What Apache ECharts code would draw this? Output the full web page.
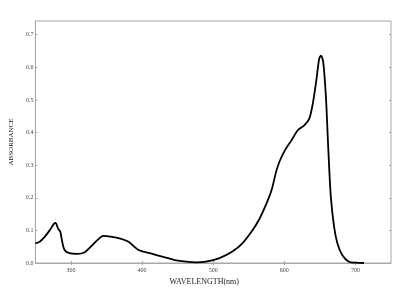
<!DOCTYPE html>
<html><head><meta charset="utf-8">
<script src="https://cdn.jsdelivr.net/npm/echarts@6/dist/echarts.min.js"></script>
<style>html,body{margin:0;padding:0;background:#fff}#c{width:400px;height:300px}</style>
</head><body><div id="c"></div>
<script>
const wavelength = [250,256,263,270,276,278.5,281.7,285,287.7,291,298,309,318.7,328,337,345.5,355.7,369.6,381,395,411,429.6,446,462,476,490,508,527,541,554.5,564,575,582,589,594,601,610,619,628,635,640,645,649,651.5,654.7,658.5,661.7,665.4,670,674.7,681.6,690.8,700,712];
const absorbance = [0.06,0.065,0.08,0.10,0.12,0.123,0.106,0.096,0.065,0.04,0.03,0.028,0.032,0.05,0.07,0.083,0.081,0.075,0.065,0.04,0.03,0.019,0.009,0.004,0.002,0.004,0.014,0.035,0.06,0.098,0.131,0.183,0.223,0.284,0.315,0.346,0.376,0.407,0.422,0.442,0.488,0.56,0.626,0.636,0.616,0.509,0.356,0.203,0.111,0.06,0.024,0.004,0.001,0];
const xTicks = [300,400,500,600,700];
const yTicks = [0,0.1,0.2,0.3,0.4,0.5,0.6,0.7];

const font = 'Liberation Serif';
const frame = '#a8a8a8';
const chart = echarts.init(document.getElementById('c'));
const pts = wavelength.map((w,i)=>[w,absorbance[i]]);
chart.setOption({
  animation:false,
  grid:{left:31,top:21,right:9,bottom:37,show:true,borderColor:frame,borderWidth:1},
  xAxis:[{
    type:'value',min:250,max:750,
    name:'WAVELENGTH(nm)',nameLocation:'middle',nameGap:11,
    nameTextStyle:{fontFamily:font,fontSize:8,color:'#222',padding:[0,18,0,0]},
    axisLine:{show:true,onZero:false,lineStyle:{color:frame}},
    axisTick:{show:true,inside:true,length:2,customValues:xTicks,lineStyle:{color:frame}},
    axisLabel:{customValues:xTicks,fontFamily:font,fontSize:6,color:'#444',margin:4},
    splitLine:{show:false}
  },{
    type:'value',min:250,max:750,position:'top',
    axisLine:{show:false},
    axisTick:{show:true,inside:true,length:2,customValues:xTicks,lineStyle:{color:frame}},
    axisLabel:{show:false},splitLine:{show:false}
  }],
  yAxis:[{
    type:'value',min:0,max:0.742,
    name:'ABSORBANCE',nameLocation:'middle',nameGap:20,nameRotate:90,
    nameTextStyle:{fontFamily:font,fontSize:7,color:'#222'},
    axisLine:{show:true,onZero:false,lineStyle:{color:frame}},
    axisTick:{show:true,inside:true,length:2,customValues:yTicks,lineStyle:{color:frame}},
    axisLabel:{customValues:yTicks,fontFamily:font,fontSize:6,color:'#444',margin:2,formatter:v=>v.toFixed(1)},
    splitLine:{show:false}
  },{
    type:'value',min:0,max:0.742,position:'right',
    axisLine:{show:false},
    axisTick:{show:true,inside:true,length:2,customValues:yTicks,lineStyle:{color:frame}},
    axisLabel:{show:false},splitLine:{show:false}
  }],
  series:[{
    type:'line',data:pts,smooth:0.3,showSymbol:false,
    lineStyle:{color:'#000',width:1.8}
  }]
});
</script></body></html>
